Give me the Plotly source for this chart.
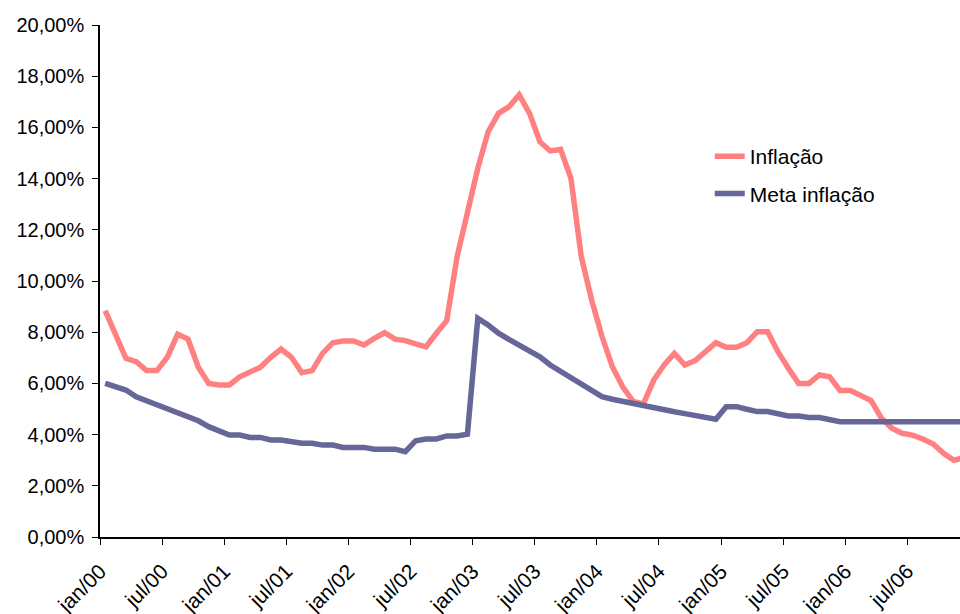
import plotly.graph_objects as go

meses = ["jan", "fev", "mar", "abr", "mai", "jun", "jul", "ago", "set", "out", "nov", "dez"]
anos = ["00", "01", "02", "03", "04", "05", "06"]
categorias = [f"{m}/{a}" for a in anos for m in meses]

inflacao = [8.84, 7.90, 6.98, 6.85, 6.50, 6.50, 7.02, 7.92, 7.73, 6.63, 6.00, 5.94,
            5.94, 6.26, 6.42, 6.63, 7.02, 7.34, 7.02, 6.42, 6.50, 7.17, 7.59, 7.66,
            7.66, 7.50, 7.76, 7.98, 7.73, 7.67, 7.54, 7.43, 7.96, 8.45, 10.95, 12.80,
            14.40, 15.83, 16.55, 16.80, 17.27, 16.55, 15.44, 15.08, 15.14, 14.01, 10.95, 9.26,
            7.83, 6.65, 5.87, 5.30, 5.20, 6.13, 6.72, 7.17, 6.72, 6.89, 7.24, 7.59,
            7.41, 7.41, 7.59, 8.02, 8.02, 7.24, 6.59, 6.00, 6.00, 6.33, 6.26, 5.72,
            5.72, 5.55, 5.33, 4.64, 4.25, 4.05, 3.98, 3.83, 3.63, 3.27, 3.00, 3.10]

meta = [6.00, 5.87, 5.74, 5.48, 5.33, 5.16, 5.03, 4.86, 4.70, 4.54, 4.31, 4.15,
        3.98, 3.98, 3.89, 3.89, 3.79, 3.79, 3.72, 3.66, 3.66, 3.59, 3.59, 3.50,
        3.50, 3.50, 3.43, 3.43, 3.43, 3.33, 3.76, 3.83, 3.83, 3.95, 3.95, 4.02,
        8.54, 8.28, 7.96, 7.72, 7.50, 7.27, 7.04, 6.72, 6.46, 6.22, 5.98, 5.74,
        5.48, 5.38, 5.29, 5.22, 5.13, 5.03, 4.96, 4.89, 4.82, 4.75, 4.68, 4.60,
        5.09, 5.09, 4.99, 4.90, 4.90, 4.80, 4.73, 4.73, 4.67, 4.67, 4.60, 4.50,
        4.50, 4.50, 4.50, 4.50, 4.50, 4.50, 4.50, 4.50, 4.50, 4.50, 4.50, 4.50]

y_ticks = [0, 2, 4, 6, 8, 10, 12, 14, 16, 18, 20]

idx = list(range(len(categorias)))
tick_pos = [i - 0.5 for i in idx[::6]]
tick_txt = categorias[::6]

FONT = "Liberation Sans, Arial, sans-serif"

fig = go.Figure()
fig.add_trace(go.Scatter(x=idx, y=inflacao, mode="lines", name="Inflação",
                         line=dict(color="#FF8080", width=5.5), legendgroup="a",
                         customdata=categorias,
                         hovertemplate="%{customdata}: %{y:.2f}%<extra>Inflação</extra>"))
fig.add_trace(go.Scatter(x=idx, y=meta, mode="lines", name="Meta inflação",
                         line=dict(color="#666699", width=5.5), legendgroup="b",
                         customdata=categorias,
                         hovertemplate="%{customdata}: %{y:.2f}%<extra>Meta inflação</extra>"))

fig.update_layout(
    width=960, height=614,
    margin=dict(l=100, r=0, t=25, b=77),
    paper_bgcolor="white", plot_bgcolor="white",
    font=dict(family=FONT, size=20, color="black"),
    separators=",.",
    showlegend=True,
    legend=dict(x=0.709, y=0.783, xanchor="left", yanchor="top",
                bgcolor="rgba(0,0,0,0)", tracegroupgap=7,
                font=dict(family=FONT, size=21, color="black")),
)
fig.update_xaxes(range=[-0.5, 82.59], tickmode="array", tickvals=tick_pos, ticktext=tick_txt,
                 tickangle=-45, showgrid=False, zeroline=False, automargin=False,
                 showline=True, linecolor="black", linewidth=1.5,
                 ticks="outside", ticklen=6, tickcolor="black", tickwidth=1,
                 ticklabelstandoff=6,
                 tickfont=dict(family=FONT, size=21))
fig.update_yaxes(range=[0, 20], tickmode="array", tickvals=y_ticks,
                 ticktext=[f"{v:.2f}%".replace(".", ",") for v in y_ticks],
                 showgrid=False, zeroline=False, automargin=False,
                 showline=True, linecolor="black", linewidth=1.5,
                 ticks="outside", ticklen=6, tickcolor="black", tickwidth=1,
                 ticklabelstandoff=4,
                 tickfont=dict(family=FONT, size=20))

fig.write_html("out.html")
